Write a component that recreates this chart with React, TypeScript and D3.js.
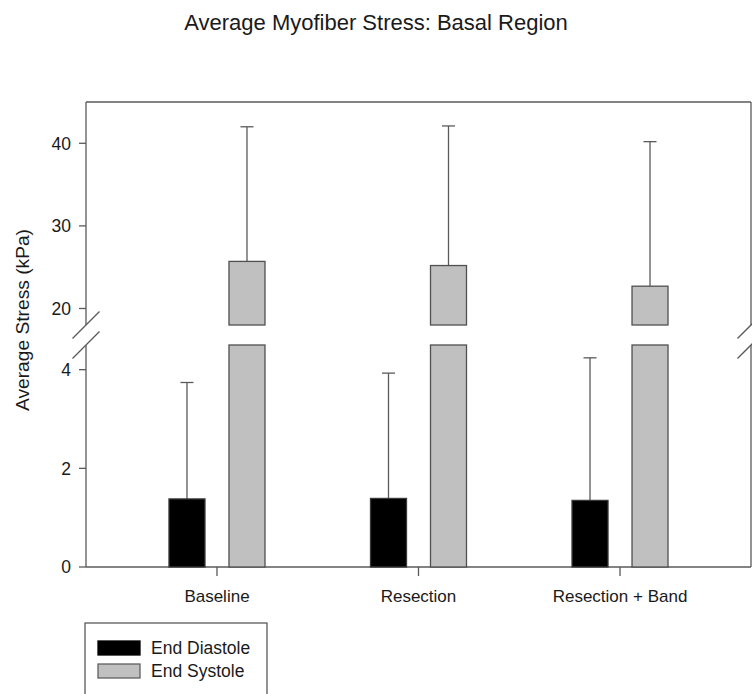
import { useEffect, useRef } from "react";
import * as d3 from "d3";

// chart data
const categories = ["Baseline", "Resection", "Resection + Band"];
const series = ["End Diastole", "End Systole"];
const endDiastole = [1.38, 1.39, 1.35];
const endDiastoleSD = [2.36, 2.54, 2.89];
const endSystole = [25.7, 25.2, 22.7];
const endSystoleSD = [16.3, 16.9, 17.5];
const lowTicks = [0, 2, 4];
const highTicks = [20, 30, 40];

export default function App() {
  const svgRef = useRef<SVGSVGElement>(null);

  useEffect(() => {
    if (!svgRef.current) return;
    const svg = d3.select(svgRef.current);
    svg.selectAll("*").remove();

    const width = 752;
    const height = 694;
    const left = 86;
    const right = 751;
    const font = "'Liberation Sans', Arial, sans-serif";
    const lineColor = "#5a5a5a";
    const textColor = "#1a1a1a";

    svg.attr("width", width).attr("height", height);

    // two y segments with a break between them
    const yLow = d3.scaleLinear().domain([0, 4.5]).range([567, 345]);
    const yHigh = d3.scaleLinear().domain([18, 45]).range([325, 102]);

    const x0 = d3.scalePoint().domain(categories).range([left, right]).padding(0.65);
    const x1 = d3.scaleBand().domain(series).range([-48, 48]).paddingInner(0.4);

    const fills: Record<string, string> = {
      "End Diastole": "#000000",
      "End Systole": "#c0c0c0",
    };

    // title
    svg
      .append("text")
      .attr("x", 376)
      .attr("y", 29.5)
      .attr("text-anchor", "middle")
      .attr("font-family", font)
      .attr("font-size", 22)
      .attr("fill", textColor)
      .text("Average Myofiber Stress: Basal Region");

    // frame (top, bottom, left and right with breaks)
    const frame = svg.append("g").attr("stroke", lineColor).attr("stroke-width", 1.3).attr("fill", "none");
    frame.append("line").attr("x1", left).attr("x2", right).attr("y1", yHigh(45)).attr("y2", yHigh(45));
    frame.append("line").attr("x1", left).attr("x2", right).attr("y1", yLow(0)).attr("y2", yLow(0));
    [left, right].forEach((x) => {
      frame.append("line").attr("x1", x).attr("x2", x).attr("y1", yHigh(45)).attr("y2", yHigh(18));
      frame.append("line").attr("x1", x).attr("x2", x).attr("y1", yLow(4.5)).attr("y2", yLow(0));
      [yHigh(18), yLow(4.5)].forEach((y) => {
        frame
          .append("line")
          .attr("x1", x - 13.5)
          .attr("y1", y + 13.5)
          .attr("x2", x + 13.5)
          .attr("y2", y - 13.5);
      });
    });

    // y ticks
    const drawTicks = (scale: d3.ScaleLinear<number, number>, ticks: number[]) => {
      ticks.forEach((t) => {
        svg
          .append("line")
          .attr("x1", left - 7)
          .attr("x2", left)
          .attr("y1", scale(t))
          .attr("y2", scale(t))
          .attr("stroke", lineColor)
          .attr("stroke-width", 1.3);
        svg
          .append("text")
          .attr("x", left - 15)
          .attr("y", scale(t))
          .attr("dy", "0.36em")
          .attr("text-anchor", "end")
          .attr("font-family", font)
          .attr("font-size", 17.5)
          .attr("fill", textColor)
          .text(t);
      });
    };
    drawTicks(yLow, lowTicks);
    drawTicks(yHigh, highTicks);

    // y label
    svg
      .append("text")
      .attr("transform", `translate(29, 320) rotate(-90)`)
      .attr("text-anchor", "middle")
      .attr("font-family", font)
      .attr("font-size", 19.2)
      .attr("fill", textColor)
      .text("Average Stress (kPa)");

    // x ticks and labels
    categories.forEach((c) => {
      const cx = x0(c) as number;
      svg
        .append("line")
        .attr("x1", cx)
        .attr("x2", cx)
        .attr("y1", yLow(0))
        .attr("y2", yLow(0) + 9)
        .attr("stroke", lineColor)
        .attr("stroke-width", 1.3);
      svg
        .append("text")
        .attr("x", cx)
        .attr("y", 601.5)
        .attr("text-anchor", "middle")
        .attr("font-family", font)
        .attr("font-size", 17)
        .attr("fill", textColor)
        .text(c);
    });

    // bars
    const bars = svg.append("g");
    categories.forEach((c, i) => {
      const cx = x0(c) as number;

      // End Diastole (lower segment only)
      const dx = cx + (x1("End Diastole") as number);
      const bw = x1.bandwidth();
      const edTop = yLow(endDiastole[i]);
      const edErr = yLow(endDiastole[i] + endDiastoleSD[i]);
      bars
        .append("line")
        .attr("x1", dx + bw / 2)
        .attr("x2", dx + bw / 2)
        .attr("y1", edTop)
        .attr("y2", edErr)
        .attr("stroke", lineColor)
        .attr("stroke-width", 1.3);
      bars
        .append("line")
        .attr("x1", dx + bw / 2 - 6.5)
        .attr("x2", dx + bw / 2 + 6.5)
        .attr("y1", edErr)
        .attr("y2", edErr)
        .attr("stroke", lineColor)
        .attr("stroke-width", 1.3);
      bars
        .append("rect")
        .attr("x", dx)
        .attr("y", edTop)
        .attr("width", bw)
        .attr("height", yLow(0) - edTop)
        .attr("fill", fills["End Diastole"])
        .attr("stroke", "#3a3a3a")
        .attr("stroke-width", 1.3);

      // End Systole (split across the break)
      const sx = cx + (x1("End Systole") as number);
      const esTop = yHigh(endSystole[i]);
      const esErr = yHigh(endSystole[i] + endSystoleSD[i]);
      bars
        .append("line")
        .attr("x1", sx + bw / 2)
        .attr("x2", sx + bw / 2)
        .attr("y1", esTop)
        .attr("y2", esErr)
        .attr("stroke", lineColor)
        .attr("stroke-width", 1.3);
      bars
        .append("line")
        .attr("x1", sx + bw / 2 - 6.5)
        .attr("x2", sx + bw / 2 + 6.5)
        .attr("y1", esErr)
        .attr("y2", esErr)
        .attr("stroke", lineColor)
        .attr("stroke-width", 1.3);
      bars
        .append("rect")
        .attr("x", sx)
        .attr("y", esTop)
        .attr("width", bw)
        .attr("height", yHigh(18) - esTop)
        .attr("fill", fills["End Systole"])
        .attr("stroke", "#505050")
        .attr("stroke-width", 1.3);
      bars
        .append("rect")
        .attr("x", sx)
        .attr("y", yLow(4.5))
        .attr("width", bw)
        .attr("height", yLow(0) - yLow(4.5))
        .attr("fill", fills["End Systole"])
        .attr("stroke", "#505050")
        .attr("stroke-width", 1.3);
    });

    // legend
    const legend = svg.append("g").attr("transform", "translate(85, 623)");
    legend
      .append("rect")
      .attr("x", 0)
      .attr("y", 0)
      .attr("width", 182)
      .attr("height", 90)
      .attr("fill", "none")
      .attr("stroke", lineColor)
      .attr("stroke-width", 1.3);
    series.forEach((s, i) => {
      legend
        .append("rect")
        .attr("x", 13)
        .attr("y", 18 + i * 23)
        .attr("width", 42)
        .attr("height", 14)
        .attr("fill", fills[s])
        .attr("stroke", s === "End Diastole" ? "#000" : "#606060")
        .attr("stroke-width", 1.3);
      legend
        .append("text")
        .attr("x", 66)
        .attr("y", 31 + i * 23)
        .attr("font-family", font)
        .attr("font-size", 17.5)
        .attr("fill", textColor)
        .text(s);
    });
  }, []);

  return (
    <svg ref={svgRef} style={{ position: "absolute", left: 0, top: 0, background: "#fff" }}></svg>
  );
}
